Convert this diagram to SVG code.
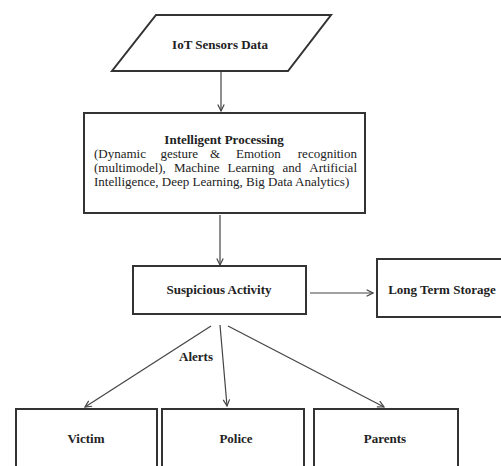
<svg xmlns="http://www.w3.org/2000/svg" width="501" height="466" viewBox="0 0 501 466">
<style>
.box{fill:#fff;stroke:#333;stroke-width:2}
.t{font-family:"Liberation Serif","Times New Roman",serif;font-size:13px;fill:#222;text-anchor:middle}
.b{font-weight:bold}
.body{font-family:"Liberation Serif","Times New Roman",serif;font-size:13px;fill:#222}
.e{text-anchor:end}
.c{stroke:#444;stroke-width:1.2;fill:none;marker-end:url(#ah)}
</style>
<defs>
<marker id="ah" viewBox="0 0 10 10" refX="9" refY="5" markerWidth="8" markerHeight="8" orient="auto" markerUnits="userSpaceOnUse">
<path d="M1,1 L9,5 L1,9" fill="none" stroke="#444" stroke-width="1.5"/>
</marker>
</defs>
<rect width="501" height="466" fill="#fff"/>
<g id="connectors">
<line class="c" x1="221" y1="72" x2="221" y2="111"/>
<line class="c" x1="220" y1="215" x2="220" y2="265"/>
<line class="c" x1="310" y1="293" x2="373" y2="293"/>
<line class="c" x1="211" y1="326" x2="85" y2="407"/>
<line class="c" x1="220" y1="325" x2="227" y2="406"/>
<line class="c" x1="228" y1="326" x2="384" y2="407"/>
<text class="t b" x="196" y="361">Alerts</text>
</g>
<g id="iot">
<polygon class="box" points="156,15 331,15 288,71 112,71"/>
<text class="t b" x="220" y="49">IoT Sensors Data</text>
</g>
<g id="processing">
<rect class="box" x="84" y="113" width="281" height="100"/>
<text class="t b" x="224" y="144">Intelligent Processing</text>
<text class="body" y="158"><tspan x="94">(Dynamic</tspan><tspan x="160.5">gesture</tspan><tspan x="210">&amp;</tspan><tspan x="236">Emotion</tspan><tspan x="357" class="e">recognition</tspan></text>
<text class="body" y="172"><tspan x="94">(multimodel),</tspan><tspan x="174">Machine</tspan><tspan x="227.5">Learning</tspan><tspan x="282.5">and</tspan><tspan x="357" class="e">Artificial</tspan></text>
<text class="body" x="94" y="186">Intelligence, Deep Learning, Big Data Analytics)</text>
</g>
<g id="suspicious">
<rect class="box" x="133" y="266" width="173" height="48"/>
<text class="t b" x="219" y="294">Suspicious Activity</text>
</g>
<g id="storage">
<rect class="box" x="377" y="259" width="130" height="58"/>
<text class="t b" x="442" y="294">Long Term Storage</text>
</g>
<g id="victim">
<rect class="box" x="16" y="409" width="141" height="65"/>
<text class="t b" x="86" y="443">Victim</text>
</g>
<g id="police">
<rect class="box" x="162" y="409" width="142" height="65"/>
<text class="t b" x="236" y="443">Police</text>
</g>
<g id="parents">
<rect class="box" x="314" y="409" width="144" height="65"/>
<text class="t b" x="385" y="443">Parents</text>
</g>
</svg>
